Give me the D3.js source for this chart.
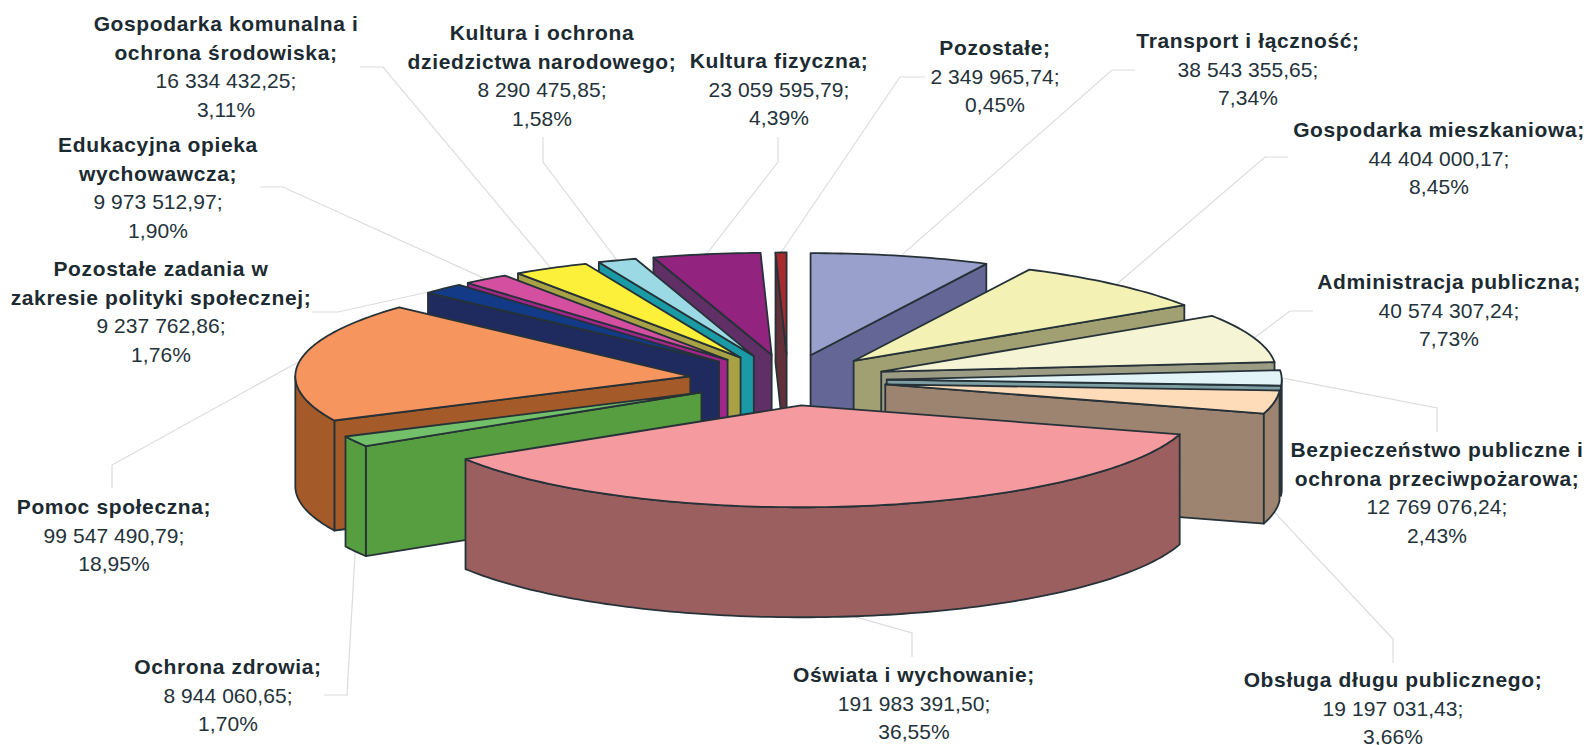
<!DOCTYPE html>
<html>
<head>
<meta charset="utf-8">
<script src="https://d3js.org/d3.v7.min.js"></script>
<style>
  body { margin: 0; background: #fff; }
  svg { display: block; }
  text { font-family: "Liberation Sans", Arial, sans-serif; fill: #24323a; font-size: 21px; text-anchor: middle; letter-spacing: 0.05px; }
  .name { font-weight: bold; fill: #1c2a31; letter-spacing: 0.63px; }
</style>
</head>
<body>
<div id="chart"></div>
<script>
// clockwise from 12 o'clock
const names = [
  ['Transport i łączność;'],
  ['Gospodarka mieszkaniowa;'],
  ['Administracja publiczna;'],
  ['Bezpieczeństwo publiczne i', 'ochrona przeciwpożarowa;'],
  ['Obsługa długu publicznego;'],
  ['Oświata i wychowanie;'],
  ['Ochrona zdrowia;'],
  ['Pomoc społeczna;'],
  ['Pozostałe zadania w', 'zakresie polityki społecznej;'],
  ['Edukacyjna opieka', 'wychowawcza;'],
  ['Gospodarka komunalna i', 'ochrona środowiska;'],
  ['Kultura i ochrona', 'dziedzictwa narodowego;'],
  ['Kultura fizyczna;'],
  ['Pozostałe;']
];
const amounts = [38543355.65, 44404000.17, 40574307.24, 12769076.24, 19197031.43, 191983391.50, 8944060.65,
  99547490.79, 9237762.86, 9973512.97, 16334432.25, 8290475.85, 23059595.79, 2349965.74];
const amountLabels = ['38 543 355,65;', '44 404 000,17;', '40 574 307,24;', '12 769 076,24;', '19 197 031,43;',
  '191 983 391,50;', '8 944 060,65;', '99 547 490,79;', '9 237 762,86;', '9 973 512,97;', '16 334 432,25;',
  '8 290 475,85;', '23 059 595,79;', '2 349 965,74;'];
const percents = ['7,34%', '8,45%', '7,73%', '2,43%', '3,66%', '36,55%', '1,70%', '18,95%', '1,76%', '1,90%',
  '3,11%', '1,58%', '4,39%', '0,45%'];
const topColors = ['#9aa0cc', '#f3f2b4', '#f5f5d6', '#e2f4f7', '#fedcb9', '#f59ba0', '#72c069', '#f6955e',
  '#123a87', '#d44fa0', '#fcf03a', '#9bd9e4', '#92237f', '#a62a2e'];
const sideColors = ['#646796', '#a0a073', '#9c9c84', '#7d9fa3', '#9d8470', '#9c5f60', '#569e3f', '#a45a29',
  '#1f2b5e', '#a0268a', '#a8a245', '#1a9aa5', '#5f2f66', '#613038'];

// label centre x and first baseline
const labelX = [1248, 1439, 1449, 1437, 1393, 914, 228, 114, 161, 158, 226, 542, 779, 995];
const labelY = [48, 137, 289, 457, 687, 682, 674, 514, 276, 152, 31, 40, 68, 55];
// leader line: slice -> bend -> end next to the label
const bendX = [1112, 1265, 1290, 1437, 1393, 912, 347, 112, 338, 283, 383, 543, 778, 900];
const bendY = [70, 157, 311, 408, 639, 633, 695, 465, 312, 187, 67, 162, 162, 77];
const endX = [1135, 1288, 1313, 1437, 1393, 912, 324, 112, 312, 260, 360, 543, 778, 925];
const endY = [70, 157, 311, 432, 663, 657, 695, 488, 312, 187, 67, 137, 137, 77];

const width = 1587, height = 745;
const cx = 788, cy = 380, rx = 395, ry = 102, depth = 110, explode = 0.25;

const svg = d3.select('#chart').append('svg').attr('width', width).attr('height', height);

const pie = d3.pie().sort(null).value(d => d);
const slices = pie(amounts).map((d, i) => ({ ...d, i }));

const px = a => rx * Math.sin(a);
const py = a => -ry * Math.cos(a);
const mid = d => (d.startAngle + d.endAngle) / 2;
const ox = d => cx + explode * px(mid(d));
const oy = d => cy + explode * py(mid(d));

function arcPoints(d, a0, a1, dy) {
  const n = Math.max(2, Math.ceil((a1 - a0) / 0.02));
  return d3.range(n + 1).map(k => {
    const a = a0 + (a1 - a0) * k / n;
    return [ox(d) + px(a), oy(d) + py(a) + dy];
  });
}
const line = d3.line();

// leader lines first, they sit under everything
svg.append('g').selectAll('path').data(slices).join('path')
  .attr('fill', 'none').attr('stroke', '#dcdcdc').attr('stroke-width', 1.2)
  .attr('d', d => line([
    [ox(d) + px(mid(d)), oy(d) + py(mid(d)) + (Math.cos(mid(d)) < 0 ? depth : 0)],
    [bendX[d.i], bendY[d.i]],
    [endX[d.i], endY[d.i]]
  ]));

// painter's order: far slices first
const order = slices.slice().sort((a, b) => Math.cos(mid(b)) - Math.cos(mid(a)));
const g = svg.append('g').attr('stroke', '#263238').attr('stroke-width', 1.8).attr('stroke-linejoin', 'round');

order.forEach(d => {
  const s = g.append('g');
  const wall = a => {
    const o = [ox(d), oy(d)], e = [ox(d) + px(a), oy(d) + py(a)];
    s.append('path').attr('fill', sideColors[d.i]).attr('d', line([o, e, [e[0], e[1] + depth], [o[0], o[1] + depth]]) + 'Z');
  };
  if (Math.sin(d.startAngle) < -1e-6) wall(d.startAngle);
  if (Math.sin(d.endAngle) > 1e-6) wall(d.endAngle);
  // outer rim, only the part facing us
  const a0 = Math.max(d.startAngle, Math.PI / 2), a1 = Math.min(d.endAngle, 3 * Math.PI / 2);
  if (a1 > a0) {
    const pts = arcPoints(d, a0, a1, 0).concat(arcPoints(d, a0, a1, depth).reverse());
    s.append('path').attr('fill', sideColors[d.i]).attr('d', line(pts) + 'Z');
  }
  const topPts = [[ox(d), oy(d)]].concat(arcPoints(d, d.startAngle, d.endAngle, 0));
  s.append('path').attr('fill', topColors[d.i]).attr('d', line(topPts) + 'Z');
});

// labels
const lineStep = 28.6;
const labels = svg.append('g').selectAll('g').data(slices).join('g')
  .attr('transform', d => `translate(${labelX[d.i]},${labelY[d.i]})`);
labels.each(function (d) {
  const el = d3.select(this);
  const n = names[d.i];
  n.forEach((t, k) => el.append('text').attr('class', 'name').attr('y', k * lineStep).text(t));
  el.append('text').attr('y', n.length * lineStep).text(amountLabels[d.i]);
  el.append('text').attr('y', (n.length + 1) * lineStep).text(percents[d.i]);
});
</script>
</body>
</html>
